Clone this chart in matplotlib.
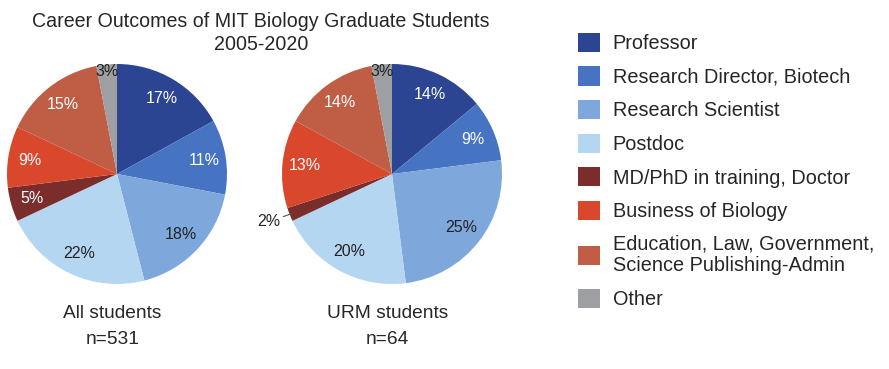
import matplotlib.pyplot as plt
import matplotlib.patches as mpatches
import numpy as np

plt.rcParams['font.family'] = ['Liberation Sans', 'DejaVu Sans']

categories = ['Professor', 'Research Director, Biotech', 'Research Scientist', 'Postdoc',
              'MD/PhD in training, Doctor', 'Business of Biology',
              'Education, Law, Government,\nScience Publishing-Admin', 'Other']
all_students = [17, 11, 18, 22, 5, 9, 15, 3]
urm_students = [14, 9, 25, 20, 2, 13, 14, 3]
colors = ['#2c4593', '#4674c2', '#7ea8db', '#b5d6f1', '#7b2d2c', '#d9472c', '#bf5e45', '#9e9fa2']
label_colors = ['white', 'white', '#222222', '#222222', 'white', 'white', 'white', '#222222']

W, H = 889, 369
fig = plt.figure(figsize=(W / 100, H / 100), dpi=100)
fig.patch.set_facecolor('white')
txt = '#262626'

fig.text(261 / W, 1 - 33 / H, 'Career Outcomes of MIT Biology Graduate Students\n2005-2020',
         ha='center', va='center', fontsize=14.1, color=txt, linespacing=1.27)


def draw_pie(cx, cy, r, values, name, n, outside=None):
    ax = fig.add_axes([(cx - r) / W, 1 - (cy + r) / H, 2 * r / W, 2 * r / H])
    wedges, _, autotexts = ax.pie(values, colors=colors, startangle=90, counterclock=False,
                                  autopct='%d%%', pctdistance=0.8,
                                  wedgeprops=dict(linewidth=0),
                                  textprops=dict(fontsize=11.5))
    ax.set_xlim(-1, 1)
    ax.set_ylim(-1, 1)
    for i, t in enumerate(autotexts):
        t.set_text(f'{values[i]}%')
        t.set_color(label_colors[i])
        w = wedges[i]
        mid = np.deg2rad((w.theta1 + w.theta2) / 2)
        if i == len(values) - 1:
            t.set_position((0.94 * np.cos(mid), 0.94 * np.sin(mid)))
        if outside is not None and i == outside:
            t.set_visible(False)
            ax.annotate(f'{values[i]}%', xy=(0.98 * np.cos(mid), 0.98 * np.sin(mid)),
                        xytext=(1.09 * np.cos(mid), 1.09 * np.sin(mid) - 0.03),
                        ha='right', va='center', fontsize=11.5, color=txt,
                        arrowprops=dict(arrowstyle='-', color='#555555', lw=0.8,
                                        shrinkA=0, shrinkB=0),
                        annotation_clip=False)
    fig.text(cx / W - 0.005, 1 - 313 / H, name, ha='center', va='center', fontsize=13.8, color=txt)
    fig.text(cx / W - 0.005, 1 - 340 / H, n, ha='center', va='center', fontsize=13.8, color=txt)


draw_pie(117, 174, 110, all_students, 'All students', 'n=531')
draw_pie(392, 174, 110, urm_students, 'URM students', 'n=64', outside=4)

handles = [mpatches.Patch(facecolor=c, edgecolor='none') for c in colors]
fig.legend(handles, categories, loc='upper left', bbox_to_anchor=(560 / W, 1 - 15 / H),
           frameon=False, fontsize=14.3, handlelength=1.1, handleheight=1.1,
           handletextpad=0.65, labelspacing=0.67, labelcolor=txt)

fig.savefig('out.png', dpi=100, facecolor='white')
